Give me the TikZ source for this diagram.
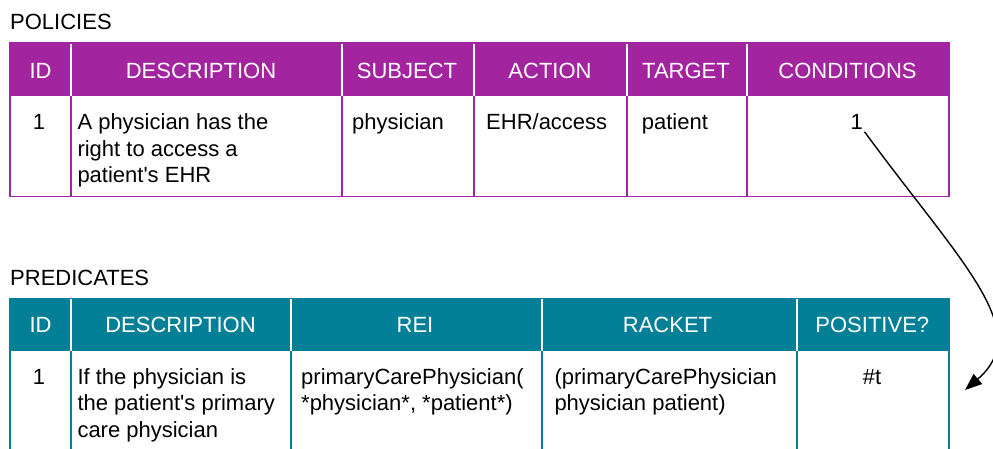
\documentclass[tikz,border=0pt]{standalone}
\usepackage{fontspec}
\setmainfont{Liberation Sans}[Ligatures=TeXOff]
\usetikzlibrary{arrows.meta}
\definecolor{pur}{HTML}{A3249F}
\definecolor{tealh}{HTML}{037F97}
\begin{document}
\begin{tikzpicture}[x=1pt,y=-1pt, font=\fontsize{22}{26.5}\selectfont,
  txt/.style={inner sep=0pt, anchor=base west},
  ctr/.style={inner sep=0pt, anchor=base},
  hdr/.style={ctr, text=white},
  pline/.style={draw=pur, line width=1.5pt},
  tline/.style={draw=tealh, line width=1.5pt},
  wline/.style={draw=white, line width=1.3pt},
  conn/.style={draw=black, line width=1.4pt, -{Triangle[length=17pt,width=13pt]}}]
\useasboundingbox (0,0) rectangle (993,448);
\fill[white] (0,0) rectangle (993,448);

% ---------- POLICIES ----------
\node[txt] (ptitle) at (10,29) {POLICIES};
\fill[pur] (10,43) rectangle (949,96);
\foreach \x in {71,342,474,627,747} {
  \draw[wline] (\x,43) -- (\x,96);
  \draw[pline] (\x,96) -- (\x,196.5);
}
\draw[pline] (10,43) rectangle (949,196.5);

\node[hdr] (ph1) at (40.5,78.3) {ID};
\node[hdr] (ph2) at (201,78.3) {DESCRIPTION};
\node[hdr] (ph3) at (407,78.3) {SUBJECT};
\node[hdr] (ph4) at (550,78.3) {ACTION};
\node[hdr] (ph5) at (686,78.3) {TARGET};
\node[hdr] (ph6) at (847.5,78.3) {CONDITIONS};

\node[ctr] (pid) at (39,129.5) {1};
\node[txt] (pd1) at (77.3,129.5) {A physician has the};
\node[txt] (pd2) at (77.3,156) {right to access a};
\node[txt] (pd3) at (77.3,182.5) {patient's EHR};
\node[txt] (psub) at (352,129.5) {physician};
\node[txt] (pact) at (486,129.5) {EHR/access};
\node[txt] (ptar) at (641.7,129.5) {patient};
\node[ctr] (pcond) at (856.7,129.5) {1};

% ---------- PREDICATES ----------
\node[txt] (qtitle) at (10,285) {PREDICATES};
\fill[tealh] (10,298.5) rectangle (949,351);
\foreach \x in {71,291,542,797} {
  \draw[wline] (\x,298.5) -- (\x,351);
  \draw[tline] (\x,351) -- (\x,452);
}
\draw[tline] (10,452) -- (10,298.5) -- (949,298.5) -- (949,452);

\node[hdr] (qh1) at (40.5,332.7) {ID};
\node[hdr] (qh2) at (180.5,332.7) {DESCRIPTION};
\node[hdr] (qh3) at (415,332.7) {REI};
\node[hdr] (qh4) at (667.5,332.7) {RACKET};
\node[hdr] (qh5) at (872.3,332.7) {POSITIVE?};

\node[ctr] (qid) at (39,384.3) {1};
\node[txt] (qd1) at (77.3,384.3) {If the physician is};
\node[txt] (qd2) at (77.3,410.8) {the patient's primary};
\node[txt] (qd3) at (77.3,437.3) {care physician};
\node[txt] (qr1) at (301,384.3) {primaryCarePhysician(};
\node[txt] (qr2) at (301,410.8) {*physician*, *patient*)};
\node[txt] (qk1) at (554.3,384.3) {(primaryCarePhysician};
\node[txt] (qk2) at (554.3,410.8) {physician patient)};
\node[ctr] (qpos) at (872,384.3) {\#t};

% ---------- connector ----------
\coordinate (tip) at (965,390);
\draw[conn] ([xshift=1.5pt,yshift=-2pt]pcond.south east)
  .. controls (960,262) and (1035,330) .. (tip);
\end{tikzpicture}
\end{document}
